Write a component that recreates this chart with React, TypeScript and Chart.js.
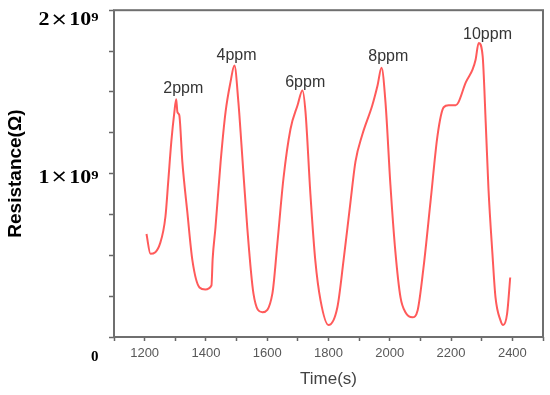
import { useEffect, useRef } from 'react';
import { Chart, registerables } from 'chart.js';

Chart.register(...registerables);

// Time (s)
const timeSeconds = [
  1206, 1219, 1251, 1268, 1277, 1287, 1297, 1303, 1307, 1313, 1323, 1339, 1356, 1379, 1398, 1418,
  1422, 1431, 1448, 1464, 1480, 1493,
  1506, 1516, 1535, 1555, 1584, 1617, 1633, 1653, 1676, 1699, 1715,
  1725, 1741, 1757, 1774, 1800, 1829, 1849, 1872, 1888, 1910, 1943, 1960, 1973,
  1986, 2002, 2018, 2035, 2051, 2074, 2091, 2110, 2133, 2156, 2176, 2192, 2215, 2224, 2248, 2270, 2280, 2290,
  2303, 2313, 2322, 2335, 2345, 2361, 2370, 2383, 2393,
];

// Resistance in units of 10^9 ohm
const resistanceG = [
  0.630, 0.509, 0.576, 0.739, 0.952, 1.194, 1.376, 1.455, 1.376, 1.358, 1.073, 0.770, 0.467, 0.303, 0.291, 0.315,
  0.480, 0.667, 1.073, 1.376, 1.558, 1.661,
  1.436, 1.176, 0.667, 0.267, 0.152, 0.267, 0.570, 0.970, 1.273, 1.418, 1.509,
  1.376, 0.873, 0.467, 0.224, 0.073, 0.182, 0.467, 0.830, 1.073, 1.236, 1.418, 1.539, 1.648,
  1.436, 0.933, 0.527, 0.242, 0.152, 0.121, 0.164, 0.424, 0.830, 1.236, 1.406, 1.418, 1.418, 1.436, 1.558, 1.636, 1.697, 1.800,
  1.721, 1.315, 0.909, 0.509, 0.242, 0.103, 0.073, 0.145, 0.364,
];

// Concentration annotations (anchored in data coordinates)
const peakLabels = ['2ppm', '4ppm', '6ppm', '8ppm', '10ppm'];
const peakLabelTimes = [1326, 1500, 1724, 1995, 2319];
const peakLabelLevels = [1.521, 1.721, 1.558, 1.715, 1.848];

// Axis ranges / ticks
const xMin = 1100;
const xMax = 2500;
const xStep = 100;
const xLabelEvery = 200;
const yMin = 0;
const yMax = 2;
const yStep = 0.25;

// Y labels: value (x10^9), mantissa text
const yLabelValues = [0, 1, 2];
const yLabelTexts = ['0', '1', '2'];

const SERIF = '"Liberation Serif", "Times New Roman", serif';
const SANS = '"Liberation Sans", Arial, sans-serif';

const overlayPlugin = {
  id: 'overlay',
  afterDatasetsDraw(chart: any) {
    const { ctx, chartArea: a, scales } = chart;
    const xs = scales.x;
    const ys = scales.y;
    ctx.save();
    // frame
    ctx.strokeStyle = '#6f6f6f';
    ctx.lineWidth = 2;
    ctx.strokeRect(a.left, a.top, a.right - a.left, a.bottom - a.top);

    // peak annotations
    ctx.font = `16px ${SANS}`;
    ctx.fillStyle = '#353535';
    ctx.textAlign = 'center';
    ctx.textBaseline = 'middle';
    peakLabels.forEach((t, i) => {
      ctx.fillText(t, xs.getPixelForValue(peakLabelTimes[i]), ys.getPixelForValue(peakLabelLevels[i]));
    });

    // y-axis labels (bold serif, N×10⁹)
    const rightEdge = a.left - 15.5;
    const baselineShift: Record<number, number> = { 0: 24, 1: 9, 2: 15 };
    ctx.fillStyle = '#000';
    ctx.textAlign = 'left';
    ctx.textBaseline = 'alphabetic';
    yLabelValues.forEach((v, i) => {
      const base = ys.getPixelForValue(v) + (baselineShift[v] ?? 5);
      const mant = yLabelTexts[i];
      if (v === 0) {
        ctx.font = `bold 15px ${SERIF}`;
        const w = ctx.measureText(mant).width;
        ctx.fillText(mant, rightEdge - w, base);
        return;
      }
      const sx = 1.22;
      ctx.font = `bold 18px ${SERIF}`;
      const wM = ctx.measureText(mant).width;
      const w10 = ctx.measureText('10').width;
      ctx.font = `17px "DejaVu Sans", sans-serif`;
      const wX = ctx.measureText('×').width;
      ctx.font = `bold 12px ${SERIF}`;
      const wE = ctx.measureText('9').width;
      const gap = 1;
      const total = (wM + gap + wX + gap + w10 + wE) * sx;
      ctx.save();
      ctx.translate(rightEdge - total, base);
      ctx.scale(sx, 1);
      let cx = 0;
      ctx.font = `bold 18px ${SERIF}`;
      ctx.fillText(mant, cx, 0);
      cx += wM + gap;
      ctx.font = `17px "DejaVu Sans", sans-serif`;
      ctx.fillText('×', cx, -0.5);
      cx += wX + gap;
      ctx.font = `bold 18px ${SERIF}`;
      ctx.fillText('10', cx, 0);
      cx += w10;
      ctx.font = `bold 12px ${SERIF}`;
      ctx.fillText('9', cx, -4);
      ctx.restore();
    });
    ctx.restore();
  },
};

export default function App() {
  const canvasRef = useRef<HTMLCanvasElement | null>(null);

  useEffect(() => {
    if (!canvasRef.current) return;
    const points = timeSeconds.map((t, i) => ({ x: t, y: resistanceG[i] }));
    const chart = new Chart(canvasRef.current, {
      type: 'line',
      data: {
        datasets: [
          {
            data: points,
            borderColor: 'rgba(255, 72, 72, 0.9)',
            borderWidth: 2,
            pointRadius: 0,
            fill: false,
            cubicInterpolationMode: 'monotone',
          },
        ],
      },
      options: {
        animation: false,
        responsive: false,
        devicePixelRatio: 1,
        layout: { padding: { top: 7, right: 7, left: 0, bottom: 0 } },
        plugins: { legend: { display: false }, tooltip: { enabled: false }, title: { display: false } },
        scales: {
          x: {
            type: 'linear',
            min: xMin,
            max: xMax,
            afterFit: (s: any) => {
              s.height = 58;
            },
            border: { display: false },
            grid: {
              drawOnChartArea: false,
              drawTicks: true,
              tickLength: 4,
              tickColor: '#666',
              tickWidth: 1.5,
            },
            ticks: {
              stepSize: xStep,
              autoSkip: false,
              maxRotation: 0,
              padding: 5,
              color: '#585858',
              font: { family: SANS, size: 13 },
              callback: (v: any) => (Number(v) % xLabelEvery === 0 ? String(v) : ''),
            },
            title: {
              display: true,
              text: 'Time(s)',
              color: '#444',
              font: { family: SANS, size: 17 },
              padding: { top: 0, bottom: 5 },
            },
          },
          y: {
            type: 'linear',
            min: yMin,
            max: yMax,
            afterFit: (s: any) => {
              s.width = 114;
            },
            border: { display: false },
            grid: {
              drawOnChartArea: false,
              drawTicks: true,
              tickLength: 5,
              tickColor: '#666',
              tickWidth: 1.5,
            },
            ticks: {
              stepSize: yStep,
              autoSkip: false,
              callback: () => '',
            },
            title: {
              display: true,
              text: 'Resistance(Ω)',
              color: '#000',
              font: { family: SANS, size: 19, weight: 'bold' },
              padding: { top: 4, bottom: 0 },
            },
          },
        },
      },
      plugins: [overlayPlugin],
    } as any);
    return () => chart.destroy();
  }, []);

  return (
    <div style={{ position: 'fixed', left: 0, top: 0, width: 550, height: 395, background: '#fff' }}>
      <canvas ref={canvasRef} width={550} height={395} style={{ display: 'block' }} />
    </div>
  );
}
